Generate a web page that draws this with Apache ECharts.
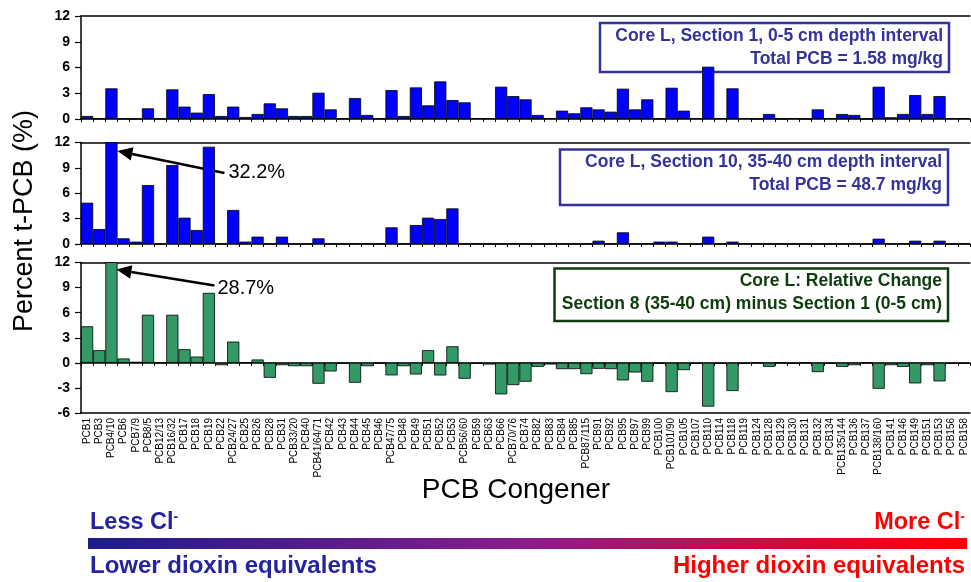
<!DOCTYPE html>
<html><head><meta charset="utf-8">
<script src="https://cdn.jsdelivr.net/npm/echarts@6/dist/echarts.min.js"></script>
<style>html,body{margin:0;padding:0;background:#fff}#c{width:971px;height:582px}</style>
</head><body><div id="c"></div>
<script>
const categories = ['PCB1','PCB3','PCB4/10','PCB6','PCB7/9','PCB8/5','PCB12/13','PCB16/32','PCB17','PCB18','PCB19','PCB22','PCB24/27','PCB25','PCB26','PCB28','PCB31','PCB33/20','PCB40','PCB41/64/71','PCB42','PCB43','PCB44','PCB45','PCB46','PCB47/75','PCB48','PCB49','PCB51','PCB52','PCB53','PCB56/60','PCB59','PCB63','PCB66','PCB70/76','PCB74','PCB82','PCB83','PCB84','PCB85','PCB87/115','PCB91','PCB92','PCB95','PCB97','PCB99','PCB100','PCB101/90','PCB105','PCB107','PCB110','PCB114','PCB118','PCB119','PCB124','PCB128','PCB129','PCB130','PCB131','PCB132','PCB134','PCB135/144','PCB136','PCB137','PCB138/160','PCB141','PCB146','PCB149','PCB151','PCB153','PCB156','PCB158'];

// Core L, Section 1, 0-5 cm
const section1 = [0.35,0.05,3.57,0.05,0.02,1.24,0.02,3.45,1.44,0.74,2.9,0.35,1.44,0.23,0.58,1.82,1.24,0.35,0.35,3.06,1.12,0.05,2.44,0.47,0.05,3.37,0.35,3.68,1.59,4.38,2.21,1.94,0.1,0.1,3.76,2.67,2.29,0.47,0.1,0.97,0.66,1.36,1.12,0.85,3.53,1.12,2.29,0.05,3.64,0.97,0.1,6.09,0.1,3.57,0.1,0.02,0.58,0.02,0.1,0.02,1.12,0.1,0.58,0.47,0.02,3.76,0.2,0.58,2.79,0.58,2.67,0.1,0.1];

// Core L, Section 10, 35-40 cm
const section10 = [4.88,1.77,32.2,0.67,0.28,6.97,0.02,9.33,3.11,1.65,11.5,0.02,4.02,0.28,0.87,0.02,0.87,0.02,0.02,0.67,0.02,0.02,0.02,0.05,0.02,1.97,0.02,2.24,3.11,2.95,4.21,0.02,0.02,0.02,0.05,0.05,0.02,0.02,0.02,0.05,0.02,0.02,0.39,0.02,1.38,0.02,0.05,0.28,0.28,0.02,0.02,0.87,0.02,0.28,0.05,0.02,0.02,0.02,0.02,0.02,0.02,0.02,0.05,0.05,0.02,0.63,0.05,0.05,0.39,0.02,0.39,0.02,0.02];

// Relative change
const relChange = [4.37,1.51,28.7,0.52,0.12,5.75,0,5.75,1.63,0.75,8.37,-0.28,2.54,0.05,0.4,-1.79,-0.28,-0.4,-0.4,-2.5,-1.03,-0.05,-2.38,-0.4,-0.05,-1.5,-0.4,-1.39,1.51,-1.51,1.98,-1.9,-0.1,-0.2,-3.77,-2.66,-2.26,-0.48,-0.2,-0.75,-0.75,-1.35,-0.71,-0.75,-2.1,-1.15,-2.26,-0.1,-3.5,-0.87,-0.1,-5.24,-0.1,-3.37,-0.1,0,-0.48,0,-0.1,0,-1.11,-0.1,-0.48,-0.28,0,-3.1,-0.28,-0.48,-2.46,-0.28,-2.22,-0.1,-0.1];

const panelTitles = [
  ['Core L, Section 1, 0-5 cm depth interval', 'Total PCB = 1.58 mg/kg'],
  ['Core L, Section 10, 35-40 cm depth interval', 'Total PCB = 48.7 mg/kg'],
  ['Core L: Relative Change', 'Section 8 (35-40 cm) minus Section 1 (0-5 cm)']
];
const peakLabels = ['32.2%', '28.7%'];

const FONT = 'Arial, "Liberation Sans", Helvetica, sans-serif';
const chart = echarts.init(document.getElementById('c'), null, {renderer: 'canvas'});

const axisLineStyle = {color: '#000', width: 1.5};
function catAxis(gi, pos, onZero, ticks, labels) {
  return {
    gridIndex: gi, type: 'category', data: categories, position: pos,
    axisLine: {show: true, onZero: onZero, lineStyle: axisLineStyle},
    axisTick: {show: ticks, interval: 0, length: 3, lineStyle: {color: '#000', width: 1}},
    axisLabel: labels ? {show: true, interval: 0, rotate: 90, fontSize: 10, margin: 5, color: '#000', fontFamily: FONT} : {show: false},
    splitLine: {show: false}
  };
}
function valAxis(gi, min) {
  return {
    gridIndex: gi, type: 'value', min: min, max: 12, interval: 3,
    axisLine: {show: true, onZero: false, lineStyle: axisLineStyle},
    axisTick: {show: true, length: 6, lineStyle: {color: '#000', width: 1.2}},
    axisLabel: {fontWeight: 'bold', fontSize: 14, color: '#000', margin: 11, fontFamily: FONT},
    splitLine: {show: false}
  };
}
const barStyle = (c) => ({color: c, borderColor: '#000', borderWidth: 0.8});

const option = {
  animation: false,
  backgroundColor: '#fff',
  grid: [
    {left: 81, right: 1, top: 16, height: 103, outerBoundsMode: 'none'},
    {left: 81, right: 1, top: 142.5, height: 101.5, outerBoundsMode: 'none'},
    {left: 81, right: 1, top: 262.5, height: 150.5, outerBoundsMode: 'none'}
  ],
  xAxis: [
    catAxis(0, 'bottom', true, true, false),
    catAxis(0, 'top', false, false, false),
    catAxis(1, 'bottom', true, true, false),
    catAxis(1, 'top', false, false, false),
    catAxis(2, 'bottom', true, true, false),
    catAxis(2, 'bottom', false, false, true),
    catAxis(2, 'top', false, false, false)
  ],
  yAxis: [valAxis(0, 0), valAxis(1, 0), valAxis(2, -6)],
  series: [
    {type: 'bar', xAxisIndex: 0, yAxisIndex: 0, data: section1, barCategoryGap: '0%', clip: true, itemStyle: barStyle('#0000ff')},
    {type: 'bar', xAxisIndex: 2, yAxisIndex: 1, data: section10, barCategoryGap: '0%', clip: true, itemStyle: barStyle('#0000ff')},
    {type: 'bar', xAxisIndex: 4, yAxisIndex: 2, data: relChange, barCategoryGap: '0%', clip: true, itemStyle: barStyle('#339966')}
  ]
};
chart.setOption(option);

function arrowEls(head, tail, size) {
  const dx = tail[0] - head[0], dy = tail[1] - head[1];
  const len = Math.hypot(dx, dy), ux = dx / len, uy = dy / len;
  const bx = head[0] + ux * size, by = head[1] + uy * size;
  const w = size * 0.45;
  return [
    {type: 'line', shape: {x1: bx, y1: by, x2: tail[0], y2: tail[1]}, style: {stroke: '#000', lineWidth: 2.5}},
    {type: 'polygon', shape: {points: [head, [bx - uy * w, by + ux * w], [bx + uy * w, by - ux * w]]}, style: {fill: '#000'}}
  ];
}
function boxEls(x1, y1, x2, y2, color, lines) {
  return [
    {type: 'rect', shape: {x: x1, y: y1, width: x2 - x1, height: y2 - y1}, style: {fill: '#fff', stroke: color, lineWidth: 2.5}},
    {type: 'text', x: x2 - 6, y: y1 + 13, style: {text: lines[0], fill: color, font: 'bold 17.5px ' + FONT, align: 'right', verticalAlign: 'middle'}},
    {type: 'text', x: x2 - 6, y: y1 + 36, style: {text: lines[1], fill: color, font: 'bold 17.5px ' + FONT, align: 'right', verticalAlign: 'middle'}}
  ];
}

// arrow heads point at the top-right of the PCB4/10 bar
const bandHalf = 6;
const h1 = chart.convertToPixel({gridIndex: 1}, [categories[2], 11.0]);
const h2 = chart.convertToPixel({gridIndex: 2}, [categories[2], 11.15]);
const head1 = [h1[0] + bandHalf, h1[1]], tail1 = [head1[0] + 107, head1[1] + 22];
const head2 = [h2[0] + bandHalf - 1, h2[1]], tail2 = [head2[0] + 98, head2[1] + 16];

const elements = [].concat(
  boxEls(600, 23, 949, 72, '#333399', panelTitles[0]),
  boxEls(560, 149.5, 948, 205, '#333399', panelTitles[1]),
  boxEls(554.5, 268.5, 948, 321, '#0d3d0d', panelTitles[2]),
  arrowEls(head1, tail1, 15),
  arrowEls(head2, tail2, 15),
  [
    {type: 'text', x: tail1[0] + 4, y: tail1[1], style: {text: peakLabels[0], fill: '#000', font: '20px ' + FONT, align: 'left', verticalAlign: 'middle'}},
    {type: 'text', x: tail2[0] + 3, y: tail2[1] + 3, style: {text: peakLabels[1], fill: '#000', font: '20px ' + FONT, align: 'left', verticalAlign: 'middle'}},
    {type: 'text', x: 25, y: 221, rotation: Math.PI / 2, style: {text: 'Percent t-PCB (%)', fill: '#000', font: '27px ' + FONT, align: 'center', verticalAlign: 'middle'}},
    {type: 'text', x: 516, y: 490, style: {text: 'PCB Congener', fill: '#000', font: '28px ' + FONT, align: 'center', verticalAlign: 'middle'}},
    {type: 'rect', shape: {x: 88, y: 538, width: 879, height: 11}, style: {fill: new echarts.graphic.LinearGradient(0, 0, 1, 0, [{offset: 0, color: '#1c1c8c'}, {offset: 0.5, color: '#8c1c8c'}, {offset: 1, color: '#ff0000'}])}},
    {type: 'text', x: 90, y: 523, style: {text: '{a|Less Cl}{s|-}', fill: '#2424a0', align: 'left', verticalAlign: 'middle', rich: {a: {font: 'bold 23.5px ' + FONT, fill: '#2424a0'}, s: {font: 'bold 14px ' + FONT, fill: '#2424a0', verticalAlign: 'top', padding: [0, 0, 12, 0]}}}},
    {type: 'text', x: 90, y: 566, style: {text: 'Lower dioxin equivalents', fill: '#2424a0', font: 'bold 24px ' + FONT, align: 'left', verticalAlign: 'middle'}},
    {type: 'text', x: 965, y: 523, style: {text: '{a|More Cl}{s|-}', fill: '#ff0000', align: 'right', verticalAlign: 'middle', rich: {a: {font: 'bold 23.5px ' + FONT, fill: '#ff0000'}, s: {font: 'bold 14px ' + FONT, fill: '#ff0000', verticalAlign: 'top', padding: [0, 0, 12, 0]}}}},
    {type: 'text', x: 965, y: 566, style: {text: 'Higher dioxin equivalents', fill: '#ff0000', font: 'bold 24px ' + FONT, align: 'right', verticalAlign: 'middle'}}
  ]
);
chart.setOption({graphic: {elements: elements}});
</script>
</body></html>
